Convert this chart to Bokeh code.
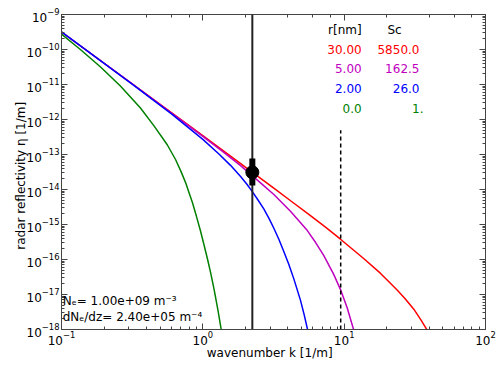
from bokeh.plotting import figure
from bokeh.models import LogAxis, FixedTicker, Label, Range1d
from bokeh.embed import file_html
from bokeh.resources import INLINE

# ---------------- data ----------------
k_red = [0.1, 0.316, 1.0, 2.0, 3.16, 4.2, 5.62, 7.3, 9.42, 13.8, 18.1, 23.7, 27.0, 31.1,
         35.0, 39.1]
eta_red = [3.16e-10, 1.05e-11, 3.47e-13, 4.37e-14, 1.12e-14, 4.7e-15, 1.95e-15, 8.7e-16,
           3.8e-16, 1.05e-16, 4.0e-17, 1.35e-17, 7.6e-18, 3.8e-18, 1.86e-18, 8.9e-19]

k_mag = [0.1, 0.316, 1.0, 1.4, 1.85, 2.56, 3.18, 4.17, 5.47, 6.3, 7.18, 8.45, 9.42, 10.5,
         11.7]
eta_mag = [3.16e-10, 1.05e-11, 3.3e-13, 1.17e-13, 4.8e-14, 1.55e-14, 7.2e-15, 2.4e-15,
           6.8e-16, 3.0e-16, 1.29e-16, 3.7e-17, 1.38e-17, 4.2e-18, 9.5e-19]

k_blue = [0.1, 0.316, 0.6, 1.0, 1.3, 1.57, 1.85, 2.05, 2.24, 2.45, 2.70, 2.95, 3.18, 3.45,
          3.74, 4.05, 4.41, 4.91, 5.2, 5.53]
eta_blue = [3.2e-10, 1.02e-11, 1.45e-12, 2.7e-13, 1.03e-13, 4.9e-14, 2.35e-14, 1.41e-14,
            8.7e-15, 5.1e-15, 2.8e-15, 1.45e-15, 7.8e-16, 3.8e-16, 1.7e-16, 7.4e-17,
            2.75e-17, 6.8e-18, 2.75e-18, 9.3e-19]

k_green = [0.1, 0.136, 0.189, 0.261, 0.362, 0.45, 0.56, 0.641, 0.7, 0.754, 0.8, 0.845,
           0.9, 0.963, 1.02, 1.084, 1.14, 1.203, 1.28, 1.35]
eta_green = [2.75e-10, 1.0e-10, 3.16e-11, 9.1e-12, 2.14e-12, 6.7e-13, 1.9e-13, 7.2e-14,
             3.3e-14, 1.6e-14, 7.9e-15, 4.2e-15, 1.74e-15, 6.5e-16, 2.6e-16, 9.5e-17,
             3.9e-17, 1.35e-17, 3.5e-18, 9.8e-19]

obs_k = 2.24
obs_eta = 3.1e-14
obs_lo = 1.3e-14
obs_hi = 7.7e-14

cut_k = 9.45
cut_top = 4.9e-13

radius_nm = ["30.00", "5.00", "2.00", "0.0"]
sc_values = ["5850.0", "162.5", "26.0", "1."]
row_colors = ["#ff0000", "#bf00bf", "#0000ff", "#008000"]

x_lo, x_hi = 0.1, 100.0
y_lo, y_hi = 1e-18, 1e-9
y_major = [10.0 ** e for e in range(-18, -8)]
y_minor = [m * 10.0 ** e for e in range(-18, -9) for m in range(2, 10)]

FONT = "DejaVu Sans"
FS = "12px"
FRAME = "#444444"

p = figure(width=500, height=366, x_axis_type="log", y_axis_type="log",
           x_range=Range1d(x_lo, x_hi), y_range=Range1d(y_lo, y_hi),
           output_backend="svg", toolbar_location=None,
           min_border_left=61, min_border_right=15, min_border_top=14, min_border_bottom=37)
p.background_fill_color = "white"
p.border_fill_color = "white"
p.outline_line_color = FRAME
p.outline_line_width = 1
p.xgrid.visible = False
p.ygrid.visible = False

for ax in (p.xaxis[0], p.yaxis[0]):
    ax.major_tick_in = 6
    ax.major_tick_out = 0
    ax.minor_tick_in = 3
    ax.minor_tick_out = 0
    ax.major_tick_line_color = FRAME
    ax.minor_tick_line_color = FRAME
    ax.axis_line_color = FRAME
    ax.major_label_text_font = FONT
    ax.major_label_text_font_size = FS
    ax.major_label_text_color = "black"
    ax.axis_label_text_font = FONT
    ax.axis_label_text_font_size = FS
    ax.axis_label_text_font_style = "normal"
    ax.axis_label_text_color = "black"

p.xaxis[0].axis_label = "wavenumber  k  [1/m]"
p.yaxis[0].axis_label = "radar reflectivity  η  [1/m]"
p.xaxis[0].major_label_standoff = 1
p.xaxis[0].axis_label_standoff = -2
p.yaxis[0].major_label_standoff = 2
p.yaxis[0].axis_label_standoff = -4
p.yaxis[0].ticker = FixedTicker(ticks=y_major, minor_ticks=y_minor)

# ticks on top and right, labels hidden
for loc in ("above", "right"):
    ax = LogAxis(major_tick_in=6, major_tick_out=0, minor_tick_in=3, minor_tick_out=0,
                 major_label_text_font_size="1px", major_label_text_alpha=0,
                 axis_line_color=None, major_tick_line_color=FRAME,
                 minor_tick_line_color=FRAME, major_label_standoff=0)
    if loc == "right":
        ax.ticker = FixedTicker(ticks=y_major, minor_ticks=y_minor)
    p.add_layout(ax, loc)

# curves
p.line(k_red, eta_red, line_color=row_colors[0], line_width=1.5)
p.line(k_mag, eta_mag, line_color=row_colors[1], line_width=1.5)
p.line(k_blue, eta_blue, line_color=row_colors[2], line_width=1.5)
p.line(k_green, eta_green, line_color=row_colors[3], line_width=1.5)

# observation line, error bar and point
p.line([obs_k, obs_k], [y_lo, y_hi], line_color="#222222", line_width=2)
p.segment(x0=[obs_k], y0=[obs_lo], x1=[obs_k], y1=[obs_hi], line_color="black", line_width=6)
p.scatter([obs_k], [obs_eta], size=13, marker="circle", fill_color="black", line_color="black")

# dashed cutoff
p.line([cut_k, cut_k], [y_lo, cut_top], line_color="black", line_width=1.5, line_dash="4 3")

# table of radii and Sc
def lab(x, y, text, color="black", align="right"):
    p.add_layout(Label(x=x, y=y, text=text, text_color=color, text_font=FONT,
                       text_font_size=FS, text_align=align, text_baseline="middle"))

col1_x = 13.3
col2_x = 34.1
lab(col1_x, 3.7e-10, "r[nm]")
lab(22.7, 3.7e-10, "Sc", align="center")
row_y = [1.02e-10, 2.8e-11, 7.6e-12, 2.04e-12]
for i in range(4):
    lab(col1_x, row_y[i], radius_nm[i], row_colors[i])
    lab(36.4 if sc_values[i] == "1." else col2_x, row_y[i], sc_values[i], row_colors[i])

lab(0.102, 6.7e-18, "Nₑ= 1.00e+09 m⁻³", align="left")
lab(0.102, 2.24e-18, "dNₑ/dz= 2.40e+05 m⁻⁴", align="left")

open("out.html", "w").write(file_html(p, INLINE))
